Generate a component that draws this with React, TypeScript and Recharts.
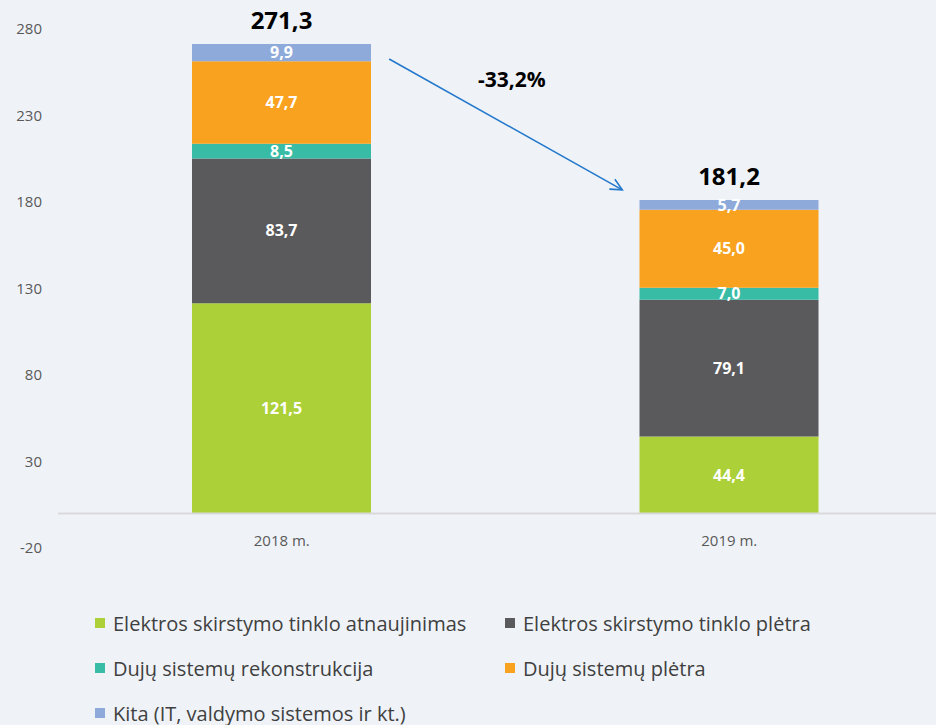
import React from 'react';
import { BarChart, Bar, XAxis, YAxis, ReferenceLine, LabelList, Legend } from 'recharts';

const years = ['2018 m.', '2019 m.'];
const elektrosAtnaujinimas = [121.5, 44.4];
const elektrosPletra = [83.7, 79.1];
const dujuRekonstrukcija = [8.5, 7.0];
const dujuPletra = [47.7, 45.0];
const kita = [9.9, 5.7];
const totals = [271.3, 181.2];
const yTicks = [-20, 30, 80, 130, 180, 230, 280];
const changeLabel = '-33,2%';
// arrow end points, in axis units
const arrowStart = 262.7;
const arrowEnd = 187;

const FONT = '"Open Sans", Lato, sans-serif';

const series = [
  { key: 'atn', name: 'Elektros skirstymo tinklo atnaujinimas', values: elektrosAtnaujinimas, color: '#acd037' },
  { key: 'ple', name: 'Elektros skirstymo tinklo plėtra', values: elektrosPletra, color: '#5a5a5c' },
  { key: 'rek', name: 'Dujų sistemų rekonstrukcija', values: dujuRekonstrukcija, color: '#38bca6' },
  { key: 'dpl', name: 'Dujų sistemų plėtra', values: dujuPletra, color: '#f9a21f' },
  { key: 'kit', name: 'Kita (IT, valdymo sistemos ir kt.)', values: kita, color: '#8eaadb' },
];

const data = years.map((year, i) => {
  const row: Record<string, any> = { year, total: totals[i] };
  series.forEach((s) => {
    row[s.key] = s.values[i];
  });
  return row;
});

const fmt = (v: any) => Number(v).toFixed(1).replace('.', ',');

const XTick = ({ x, y, payload }: any) => (
  <text x={x} y={y} dy={-10} textAnchor="middle" fill="#595959" fontSize={15} fontFamily={FONT}>
    {payload.value}
  </text>
);

const TotalLabel = ({ x, y, width, index }: any) => (
  <text
    x={x + width / 2}
    y={y - 15}
    textAnchor="middle"
    fill="#000"
    fontSize={24}
    fontWeight={700}
    fontFamily={FONT}
  >
    {fmt(totals[index])}
  </text>
);

const ChangeArrow = ({ x1, y1, x2, y2 }: any) => {
  if (x1 == null) return null;
  // start just right of the first bar, end just left of the second
  const sx = x1 + (x2 - x1) * 0.24;
  const ex = x1 + (x2 - x1) * 0.761;
  const ang = Math.atan2(y2 - y1, ex - sx);
  const head = 13;
  const a1 = ang + Math.PI - 0.45;
  const a2 = ang + Math.PI + 0.45;
  const mx = (sx + ex) / 2;
  const my = (y1 + y2) / 2;
  return (
    <g>
      <line x1={sx} y1={y1} x2={ex} y2={y2} stroke="#2479cc" strokeWidth={1.6} />
      <polyline
        points={`${ex + head * Math.cos(a1)},${y2 + head * Math.sin(a1)} ${ex},${y2} ${ex + head * Math.cos(a2)},${y2 + head * Math.sin(a2)}`}
        fill="none"
        stroke="#2479cc"
        strokeWidth={1.6}
      />
      <text x={mx + 6} y={my - 37} textAnchor="middle" fontSize={21} fontWeight={700} fill="#000" fontFamily={FONT}>
        {changeLabel}
      </text>
    </g>
  );
};

const LegendBox = () => (
  <div style={{ position: 'relative', width: 936, height: 147, fontFamily: FONT }}>
    {series.map((s, i) => (
      <div
        key={s.key}
        style={{
          position: 'absolute',
          left: i % 2 === 0 ? 95 : 505,
          top: 33 + Math.floor(i / 2) * 45,
          height: 24,
          display: 'flex',
          alignItems: 'center',
          whiteSpace: 'nowrap',
        }}
      >
        <span style={{ display: 'inline-block', width: 10, height: 10, background: s.color, marginRight: 8 }} />
        <span style={{ fontSize: 20, color: '#404040' }}>{s.name}</span>
      </div>
    ))}
  </div>
);

export default function App() {
  return (
    <div
      style={{
        position: 'absolute',
        left: 0,
        top: 0,
        width: 936,
        height: 725,
        overflow: 'hidden',
        background: '#eff3f8',
      }}
    >
      <BarChart width={953} height={725} data={data} margin={{ top: 29, right: 0, left: 0, bottom: 0 }}>
        <YAxis
          type="number"
          domain={[-20, 280]}
          ticks={yTicks}
          width={58}
          axisLine={false}
          tickLine={false}
          tickMargin={10}
          tick={{ fill: '#595959', fontSize: 15, fontFamily: FONT }}
        />
        <XAxis
          dataKey="year"
          height={30}
          axisLine={false}
          tickLine={false}
          tick={<XTick />}
        />
        <ReferenceLine y={0} stroke="#d9d9d9" strokeWidth={2} />
        {series.map((s, i) => (
          <Bar key={s.key} dataKey={s.key} name={s.name} stackId="a" fill={s.color} barSize={179} isAnimationActive={false}>
            <LabelList
              dataKey={s.key}
              position="center"
              formatter={fmt}
              fill="#fff"
              fontSize={16}
              fontWeight={700}
              fontFamily={FONT}
            />
            {i === series.length - 1 && <LabelList dataKey="total" content={<TotalLabel />} />}
          </Bar>
        ))}
        <ReferenceLine
          segment={[
            { x: years[0], y: arrowStart },
            { x: years[1], y: arrowEnd },
          ]}
          ifOverflow="visible"
          shape={<ChangeArrow />}
        />
        <Legend verticalAlign="bottom" wrapperStyle={{ left: 0, width: 936, height: 147 }} content={<LegendBox />} />
      </BarChart>
    </div>
  );
}
